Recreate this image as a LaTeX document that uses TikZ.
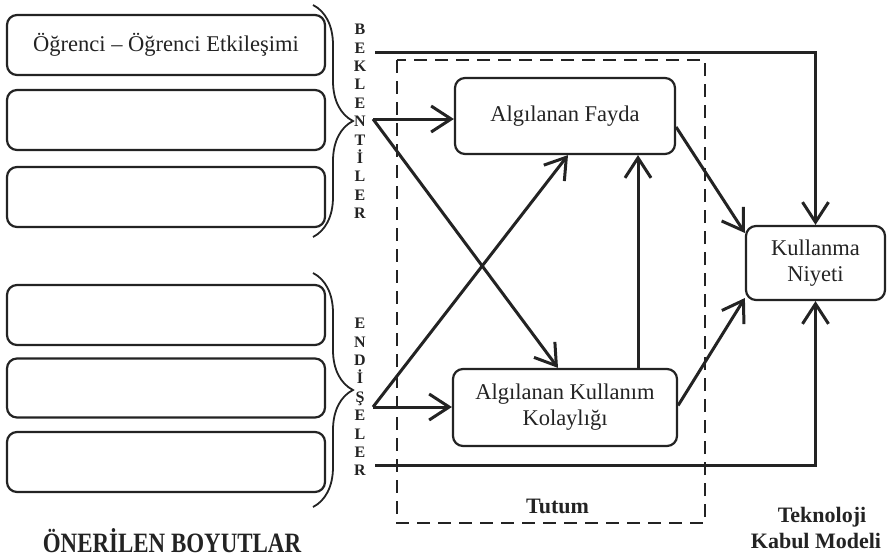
\documentclass[tikz,border=0pt]{standalone}
\usepackage{fontspec}
\setmainfont{Liberation Serif}
\usetikzlibrary{arrows.meta,decorations.pathreplacing}
\definecolor{ink}{RGB}{35,35,35}
\tikzset{
  box/.style={draw=ink, line width=2.2pt, rounded corners=10pt, text=ink,
    font=\fontsize{22.5}{26}\selectfont, align=center, inner sep=0pt},
  arr/.style={draw=ink, line width=3pt, -{Straight Barb[length=20pt,width=26pt]}},
  brc/.style={draw=ink, line width=1.8pt, decorate, decoration={brace, amplitude=40pt}},
  letters/.style={text=ink, align=center, inner sep=0pt, font=\bfseries\fontsize{16}{18.4}\selectfont},
  lbl/.style={text=ink, inner sep=0pt, font=\bfseries\fontsize{22}{26}\selectfont},
  dbox/.style={draw=ink, line width=1.8pt, dash pattern=on 13pt off 8pt},
}
\begin{document}
\begin{tikzpicture}[x=1pt,y=-1pt]
\useasboundingbox (0,0) rectangle (887,557);
% left boxes
\node[box, minimum width=318pt, minimum height=60pt] (b1) at (166,45) {Öğrenci – Öğrenci Etkileşimi};
\node[box, minimum width=318pt, minimum height=60pt] (b2) at (166,120) {};
\node[box, minimum width=318pt, minimum height=60pt] (b3) at (166,197) {};
\node[box, minimum width=318pt, minimum height=60pt] (b4) at (166,315) {};
\node[box, minimum width=318pt, minimum height=59pt] (b5) at (166,388) {};
\node[box, minimum width=318pt, minimum height=60pt] (b6) at (166,462) {};
% braces
\draw[brc] (313,5) -- (313,237);
\draw[brc] (313,273) -- (313,507);
% letters
\node[letters] (bek) at (360,121.5) {B\\E\\K\\L\\E\\N\\T\\İ\\L\\E\\R};
\node[letters] (end) at (360,397) {E\\N\\D\\İ\\Ş\\E\\L\\E\\R};
% dashed box
\draw[dbox] (397,60) rectangle (705,523);
% main boxes
\node[box, minimum width=220pt, minimum height=76pt] (fayda) at (565,116) {Algılanan Fayda};
\node[box, minimum width=224pt, minimum height=77pt] (kolay) at (565,407.5) {Algılanan Kullanım\\Kolaylığı};
\node[box, minimum width=139pt, minimum height=74pt] (kull) at (815.5,263) {Kullanma\\Niyeti};
% coordinates
\coordinate (bk) at (373,119);
\coordinate (en) at (373,407);
\coordinate (top) at (375,52);
\coordinate (bot) at (375,465);
% arrows
\draw[arr] (bk) -- (bk -| fayda.west);
\draw[arr] (bk) -- ([xshift=-7pt]kolay.north);
\draw[arr] (en) -- (en -| kolay.west);
\draw[arr] (en) -- ([xshift=3pt]fayda.south);
\draw[arr] ([xshift=73pt]kolay.north) -- ([xshift=73pt]fayda.south);
\draw[arr] ([yshift=-11pt]fayda.east) -- ([yshift=30pt]kull.west);
\draw[arr] ([yshift=2pt]kolay.east) -- ([yshift=-35pt]kull.west);
\draw[arr] (top) -| (kull.north);
\draw[arr] (bot) -| (kull.south);
% labels
\node[lbl, anchor=base] (tutum) at (557.5,513) {Tutum};
\node[lbl, anchor=base] (tek1) at (822,522) {Teknoloji};
\node[lbl, anchor=base] (tek2) at (816,548) {Kabul Modeli};
\node[text=ink, inner sep=0pt, anchor=base] (oner) at (172,552) {\bfseries\fontsize{28}{32}\selectfont\scalebox{0.82}[1]{ÖNERİLEN BOYUTLAR}};
\end{tikzpicture}
\end{document}
